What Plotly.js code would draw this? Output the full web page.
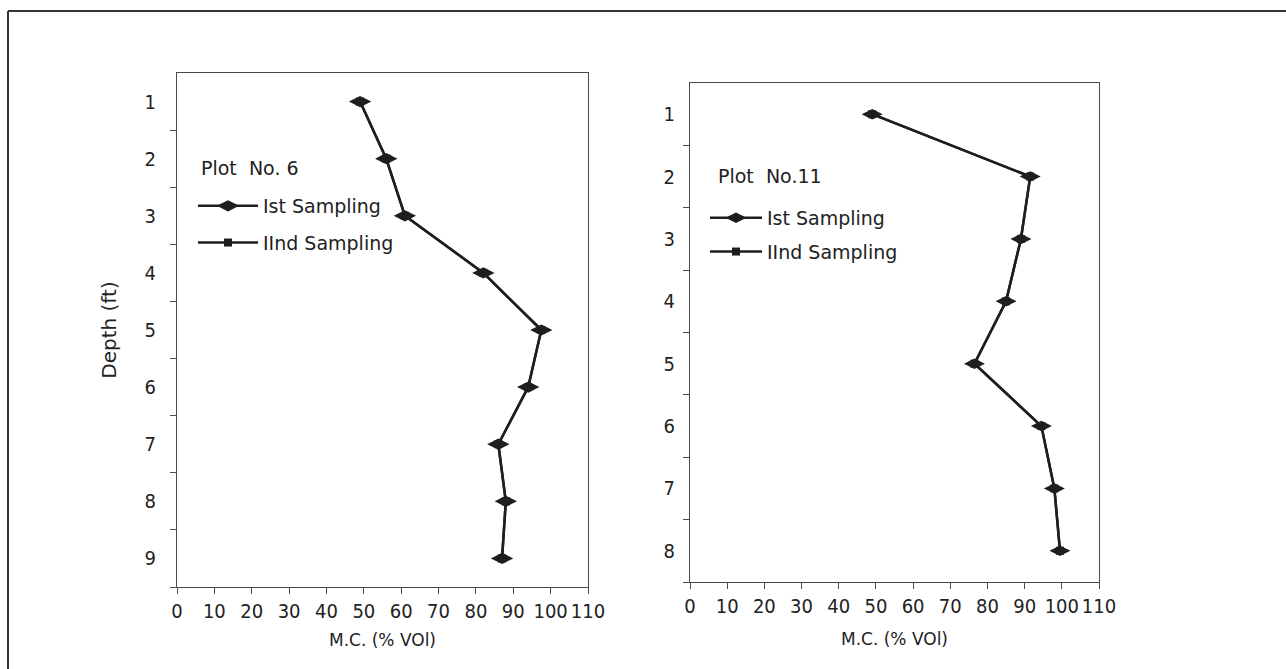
<!DOCTYPE html>
<html><head><meta charset="utf-8">
<script src="https://cdn.plot.ly/plotly-3.0.1.min.js"></script>
<style>html,body{margin:0;padding:0;background:#fff}</style>
</head><body><div id="chart" style="width:1286px;height:669px"></div>
<script>
// ---- data ----
const depthPlot6 = [1, 2, 3, 4, 5, 6, 7, 8, 9];
const plot6Ist   = [49, 56, 61, 82, 97.5, 94, 86, 88, 87];
const plot6IInd  = [49, 56, 61, 82, 97.5, 94, 86, 88, 87];

const depthPlot11 = [1, 2, 3, 4, 5, 6, 7, 8];
const plot11Ist   = [49, 91.5, 89, 85, 76.5, 94.5, 98, 99.5];
const plot11IInd  = [49, 91.5, 89, 85, 76.5, 94.5, 98, 99.5];

const xTickVals = [0, 10, 20, 30, 40, 50, 60, 70, 80, 90, 100, 110];
const depthTicks6 = [1, 2, 3, 4, 5, 6, 7, 8, 9];
const depthTicks11 = [1, 2, 3, 4, 5, 6, 7, 8];
const seriesNames = ['Ist Sampling', 'IInd Sampling'];
const legendTitles = ['Plot  No. 6', 'Plot  No.11'];
const xTitle = 'M.C. (% VOl)';
const yTitle = 'Depth (ft)';

// ---- styling ----
const INK = '#1e1e1e';
const AX = '#4a4a4a';
const FONT = 'DejaVu Sans, Liberation Sans, sans-serif';
const TICKFONT = {family: 'DejaVu Sans Condensed, DejaVu Sans, sans-serif', size: 20, color: '#222'};
const W = 1286, H = 669;

function tr(x, y, name, sym, size, xa, ya, lg, rank, group) {
  return {
    x: x, y: y, name: name, type: 'scatter', mode: 'lines+markers',
    xaxis: xa, yaxis: ya, legend: lg, legendrank: rank, legendgroup: group,
    line: {color: INK, width: 2.5},
    marker: {symbol: sym, size: size, color: INK},
    hoverinfo: 'x+y'
  };
}

const data = [
  tr(plot6IInd, depthPlot6, seriesNames[1], 'square', 8, 'x', 'y', 'legend', 2, 'a2'),
  tr(plot6Ist, depthPlot6, seriesNames[0], 'diamond-wide', 16, 'x', 'y', 'legend', 1, 'a1'),
  tr(plot11IInd, depthPlot11, seriesNames[1], 'square', 8, 'x2', 'y2', 'legend2', 2, 'b2'),
  tr(plot11Ist, depthPlot11, seriesNames[0], 'diamond-wide', 15, 'x2', 'y2', 'legend2', 1, 'b1')
];

function xax(domain, anchor, standoff) {
  return {
    domain: domain, anchor: anchor, range: [0, 110],
    tickvals: xTickVals, ticks: 'outside', ticklen: 6, tickcolor: AX,
    showline: true, mirror: true, linecolor: AX, linewidth: 1,
    showgrid: false, zeroline: false, tickfont: TICKFONT,
    title: {text: xTitle, font: {family: FONT, size: 17, color: '#222'}, standoff: standoff}
  };
}
function yax(domain, anchor, maxD, ticks, standoff) {
  const minor = [];
  for (let i = 0; i < ticks.length; i++) minor.push(ticks[i] + 0.5);
  return {
    domain: domain, anchor: anchor, range: [maxD + 0.5, 0.5],
    tickvals: ticks, ticks: '', ticklabelstandoff: standoff,
    minor: {tickvals: minor, ticks: 'outside', ticklen: 6, tickcolor: AX, showgrid: false},
    showline: true, mirror: true, linecolor: AX, linewidth: 1,
    showgrid: false, zeroline: false, tickfont: TICKFONT
  };
}

const ya1 = yax([1 - 587 / H, 1 - 73 / H], 'x', 9, depthTicks6, 16);
ya1.title = {text: yTitle, font: {family: FONT, size: 20, color: '#222'}, standoff: 22};
const ya2 = yax([1 - 582 / H, 1 - 83 / H], 'x2', 8, depthTicks11, 10);

const legendBase = {
  xanchor: 'left', yanchor: 'top', bgcolor: 'rgba(0,0,0,0)', borderwidth: 0,
  font: {family: FONT, size: 19, color: '#222'}, itemwidth: 60,
  traceorder: 'grouped'
};

const layout = {
  width: W, height: H,
  margin: {l: 0, r: 0, t: 0, b: 0},
  paper_bgcolor: '#fff', plot_bgcolor: '#fff',
  showlegend: true,
  font: {family: FONT, color: '#222'},
  xaxis: xax([177 / W, 588 / W], 'y', 12),
  yaxis: ya1,
  xaxis2: xax([690 / W, 1099 / W], 'y2', 16),
  yaxis2: ya2,
  legend: Object.assign({}, legendBase, {x: 193 / W, y: 1 - 187 / H, tracegroupgap: 9}),
  legend2: Object.assign({}, legendBase, {x: 705 / W, y: 1 - 199 / H, itemwidth: 52, tracegroupgap: 6}),
  annotations: [
    {xref: 'paper', yref: 'paper', x: 199 / W, y: 1 - 168 / H, xanchor: 'left', yanchor: 'middle',
     text: legendTitles[0], showarrow: false, font: {family: FONT, size: 19, color: '#222'}},
    {xref: 'paper', yref: 'paper', x: 716 / W, y: 1 - 176 / H, xanchor: 'left', yanchor: 'middle',
     text: legendTitles[1], showarrow: false, font: {family: FONT, size: 19, color: '#222'}}
  ],
  shapes: [
    {type: 'line', xref: 'paper', yref: 'paper', x0: 8 / W, x1: 1, y0: 1 - 11 / H, y1: 1 - 11 / H,
     line: {color: '#333', width: 2}},
    {type: 'line', xref: 'paper', yref: 'paper', x0: 8 / W, x1: 8 / W, y0: 1 - 11 / H, y1: 0,
     line: {color: '#333', width: 2}}
  ]
};

Plotly.newPlot('chart', data, layout, {displayModeBar: false, staticPlot: true});
</script>
</body></html>
